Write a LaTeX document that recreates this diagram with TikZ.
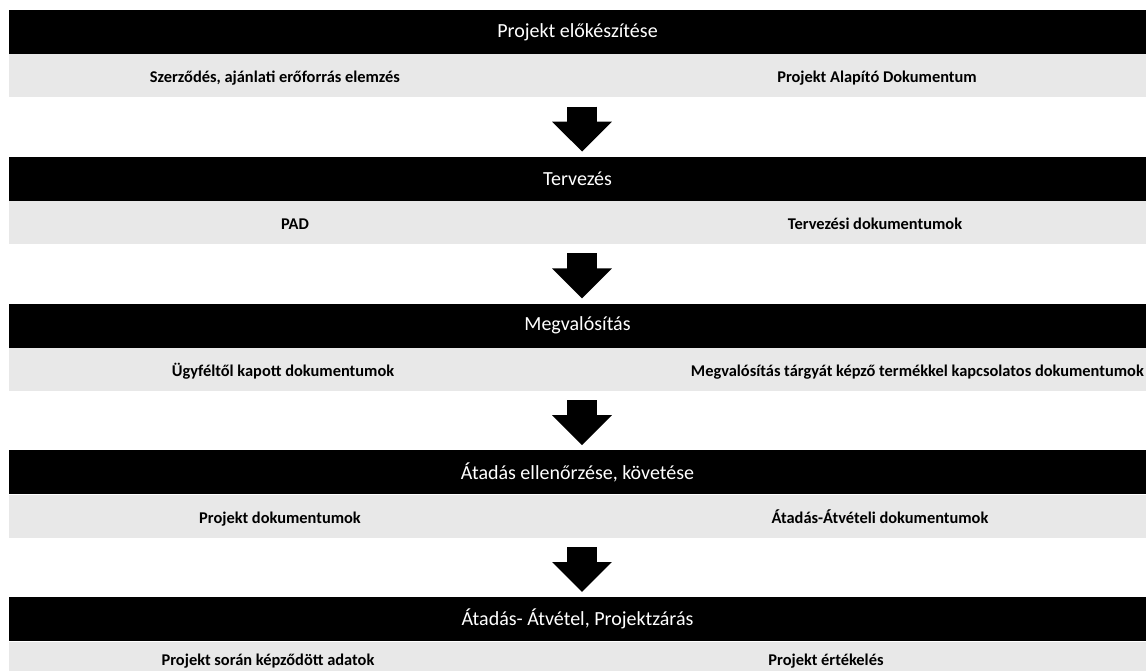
\documentclass[tikz,border=0pt]{standalone}
\usepackage{fontspec}
\setmainfont{Carlito}
\usetikzlibrary{arrows.meta,positioning}

\begin{document}
\begin{tikzpicture}
[x=1pt,y=-1pt,
bar/.style={fill=black,text=white,minimum width=1137pt,minimum height=44pt,inner sep=0pt,
  font=\fontsize{20}{22}\selectfont},
band/.style={fill=black!9,minimum width=1137pt,minimum height=43pt,inner sep=0pt},
doc/.style={font=\fontsize{16.4}{18}\selectfont\bfseries,inner sep=0pt,
  text height=12pt,text depth=3pt},
step arrow/.style={line width=30pt,-{Triangle[length=30pt 0,width=58pt 0]},
  shorten <=9pt,shorten >=5pt}]
\useasboundingbox (0,0) rectangle (1147,671);
%%
\node[bar] (prep) at (577.5,32) {Projekt előkészítése};
\node[band,below=0pt of prep] (prepdocs) {};
\node[bar,below=59pt of prepdocs] (plan) {Tervezés};
\node[band,below=0pt of plan] (plandocs) {};
\node[bar,below=59pt of plandocs] (impl) {Megvalósítás};
\node[band,below=0pt of impl] (impldocs) {};
\node[bar,below=59pt of impldocs] (check) {Átadás ellenőrzése, követése};
\node[band,below=0pt of check] (checkdocs) {};
\node[bar,below=59pt of checkdocs] (close) {Átadás- Átvétel, Projektzárás};
\node[band,below=0pt of close] (closedocs) {};
%%
\node[doc] (contract) at ([yshift=-2.5pt]prepdocs.center -| 275,0) {Szerződés, ajánlati erőforrás elemzés};
\node[doc] (pad) at ([yshift=-2.5pt]prepdocs.center -| 877,0) {Projekt Alapító Dokumentum};
\node[doc] (padin) at ([yshift=-2.5pt]plandocs.center -| 295,0) {PAD};
\node[doc] (plans) at ([yshift=-2.5pt]plandocs.center -| 875,0) {Tervezési dokumentumok};
\node[doc] (client) at ([yshift=-2.5pt]impldocs.center -| 283,0) {Ügyféltől kapott dokumentumok};
\node[doc,anchor=east] (product) at ([yshift=-2.5pt]impldocs.center -| 1144,0) {Megvalósítás tárgyát képző termékkel kapcsolatos dokumentumok};
\node[doc] (projdocs) at ([yshift=-2.5pt]checkdocs.center -| 280,0) {Projekt dokumentumok};
\node[doc] (handover) at ([yshift=-2.5pt]checkdocs.center -| 880,0) {Átadás-Átvételi dokumentumok};
\node[doc] (data) at (268,661) {Projekt során képződött adatok};
\node[doc] (review) at (826,661) {Projekt értékelés};
%%
\draw[step arrow] (prepdocs.south -| 582,0) -- (plan.north -| 582,0);
\draw[step arrow] (plandocs.south -| 582,0) -- (impl.north -| 582,0);
\draw[step arrow] (impldocs.south -| 582,0) -- (check.north -| 582,0);
\draw[step arrow] (checkdocs.south -| 582,0) -- (close.north -| 582,0);
\end{tikzpicture}
\end{document}
